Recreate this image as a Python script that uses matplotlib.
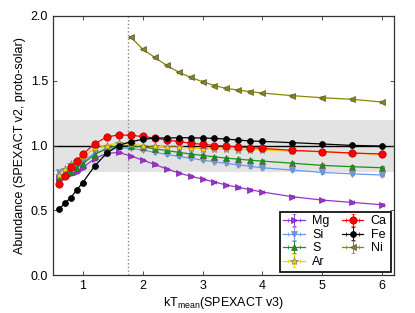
import numpy as np
import matplotlib
matplotlib.use("Agg")
import matplotlib.pyplot as plt

plt.rcParams["font.family"] = ["Liberation Sans", "DejaVu Sans"]
plt.rcParams["mathtext.fontset"] = "custom"
plt.rcParams["mathtext.rm"] = "Liberation Sans"

# temperaturen (keV)
kT = [0.6, 0.7, 0.8, 0.9, 1.0, 1.2, 1.4, 1.6, 1.8, 2.0, 2.2, 2.4, 2.6, 2.8,
      3.0, 3.2, 3.4, 3.6, 3.8, 4.0, 4.5, 5.0, 5.5, 6.0]
kT_ni = kT[8:]

mg = [0.75, 0.76, 0.78, 0.80, 0.83, 0.90, 0.94, 0.947, 0.92, 0.888, 0.855, 0.82,
      0.79, 0.763, 0.742, 0.719, 0.696, 0.678, 0.66, 0.642, 0.606, 0.58, 0.562, 0.544]
si = [0.795, 0.80, 0.82, 0.85, 0.88, 0.94, 0.97, 0.98, 0.98, 0.965, 0.948, 0.932,
      0.917, 0.902, 0.888, 0.875, 0.862, 0.851, 0.84, 0.829, 0.811, 0.793, 0.782, 0.773]
s = [0.76, 0.78, 0.80, 0.83, 0.86, 0.93, 0.98, 1.0, 1.0, 0.99, 0.975, 0.962,
     0.948, 0.935, 0.924, 0.913, 0.903, 0.895, 0.887, 0.88, 0.864, 0.847, 0.837, 0.829]
ar = [0.77, 0.82, 0.855, 0.88, 0.91, 0.978, 1.0, 1.02, 1.01, 1.0, 0.996, 0.99,
      0.986, 0.982, 0.976, 0.974, 0.971, 0.969, 0.967, 0.965, 0.958, 0.952, 0.942, 0.932]
ca = [0.706, 0.765, 0.837, 0.88, 0.932, 1.014, 1.065, 1.083, 1.078, 1.07, 1.058, 1.042,
      1.032, 1.017, 1.01, 1.0, 0.996, 0.988, 0.983, 0.978, 0.963, 0.953, 0.942, 0.935]
fe = [0.508, 0.555, 0.598, 0.657, 0.714, 0.842, 0.942, 1.0, 1.03, 1.047, 1.058, 1.058,
      1.06, 1.06, 1.058, 1.055, 1.05, 1.042, 1.035, 1.032, 1.022, 1.012, 1.001, 0.996]
ni = [1.836, 1.743, 1.679, 1.617, 1.566, 1.525, 1.492, 1.461, 1.44, 1.427, 1.415,
      1.404, 1.384, 1.368, 1.356, 1.335]

# element: (x, y, kleur, marker, grootte, randkleur)
reeksen = [
    ("Mg", kT, mg, "#9933cc", ">", 4.0, "#7a2aa0"),
    ("Si", kT, si, "#6699ee", "v", 4.0, "#888888"),
    ("S", kT, s, "#119911", "^", 4.0, "#555555"),
    ("Ar", kT, ar, "#ffcc00", "*", 6.0, "#777777"),
    ("Ca", kT, ca, "#ff0000", "o", 5.3, "#aa0000"),
    ("Fe", kT, fe, "#000000", "o", 4.3, "#000000"),
    ("Ni", kT_ni, ni, "#888800", "<", 4.0, "#555555"),
]

fig = plt.figure(figsize=(4.15, 3.13), dpi=100)
ax = fig.add_axes([0.127, 0.12, 0.823, 0.83])

ax.axhspan(0.8, 1.2, color="#e3e3e3", zorder=0, lw=0)
ax.axhline(1.0, color="black", lw=1.0, zorder=1)
ax.axvline(1.75, color="#888888", ls=":", lw=1.0, zorder=1)

for naam, x, y, kleur, mk, ms, rand in reeksen:
    ax.errorbar(x, y, yerr=0.01, xerr=0.03, color=kleur, marker=mk, ms=ms,
                mec=rand, mew=0.5, lw=0.9, elinewidth=0.7, capsize=1.5,
                label=naam, zorder=3)

ax.set_xlim(0.5, 6.2)
ax.set_ylim(0.0, 2.0)
ax.set_xticks([1, 2, 3, 4, 5, 6])
ax.set_yticks([0.0, 0.5, 1.0, 1.5, 2.0])
ax.set_yticklabels(["0.0", "0.5", "1.0", "1.5", "2.0"])
ax.tick_params(direction="in", top=True, right=True, length=3, width=0.6,
               labelsize=9, colors="#333333", labelcolor="black")
for sp in ax.spines.values():
    sp.set_color("#333333")
    sp.set_linewidth(0.9)

ax.set_xlabel(r"kT$_{\rm mean}$(SPEXACT v3)", fontsize=9, labelpad=2)
ax.set_ylabel("Abundance (SPEXACT v2, proto-solar)", fontsize=9, labelpad=3)

leg = ax.legend(loc="lower right", ncol=2, fontsize=9, fancybox=False,
                framealpha=1, edgecolor="black", borderaxespad=0.3,
                handlelength=1.7, handletextpad=0.6, columnspacing=1.0,
                labelspacing=0.12, borderpad=0.3)
leg.get_frame().set_linewidth(1.2)

fig.savefig("out.png", dpi=100)
